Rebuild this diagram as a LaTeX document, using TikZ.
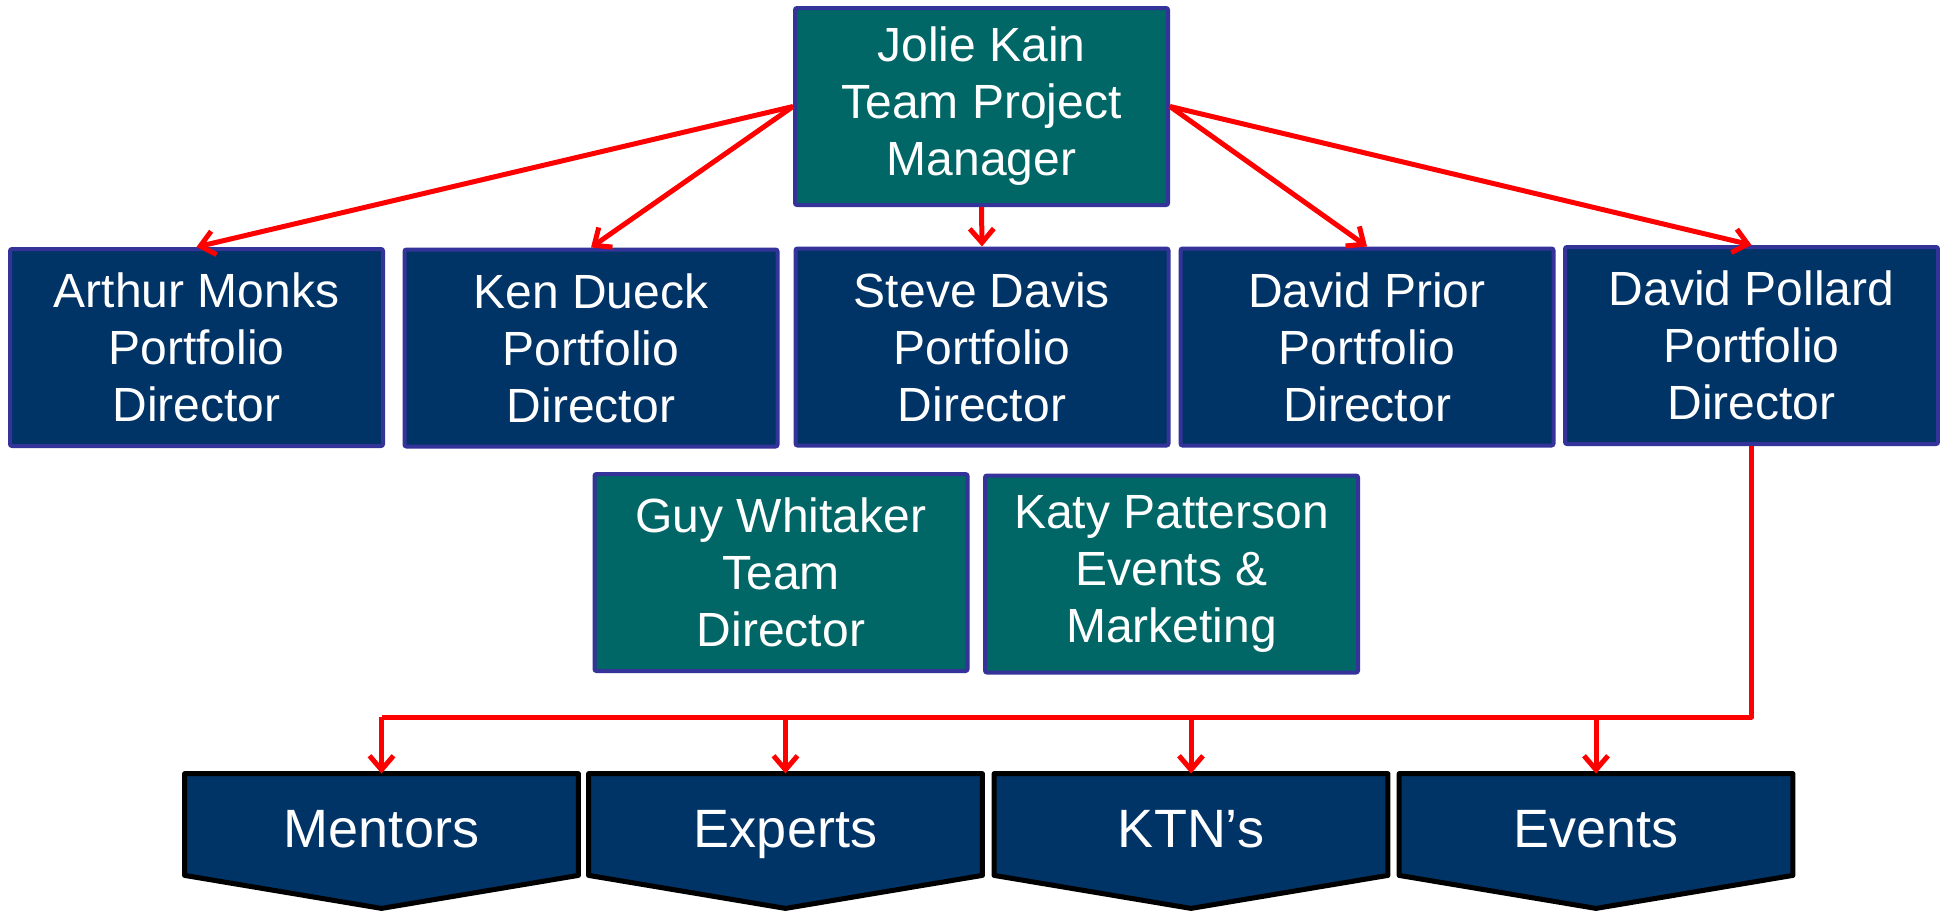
\documentclass[tikz,border=0pt]{standalone}
\usepackage{fontspec}
\setmainfont{Liberation Sans}
\usepackage{tikz}
\usetikzlibrary{arrows.meta,backgrounds}
\definecolor{verde}{RGB}{0,102,102}
\definecolor{azul}{RGB}{0,51,102}
\definecolor{borde}{RGB}{51,51,153}
\tikzstyle{box}=[rectangle, draw=borde, line width=2pt, rounded corners=1pt, text=white, align=center, minimum width=186.5pt, minimum height=98.5pt, inner sep=0pt, font=\fontsize{24}{28.5}\selectfont]
\tikzstyle{navybox}=[box, fill=azul]
\tikzstyle{tealbox}=[box, fill=verde]
\tikzstyle{tab}=[rectangle, minimum width=196.5pt, minimum height=50.5pt, inner sep=0pt, text height=22.5pt, text depth=0pt, text=white, font=\fontsize{27}{32}\selectfont]
\tikzstyle{flecha}=[red, line width=2.5pt, -{Straight Barb[length=7pt,width=12pt]}]
\begin{document}
\begin{tikzpicture}[x=0.5pt, y=-0.5pt]
        \useasboundingbox (0,0) rectangle (1940,911);

        % cajas
        \node[tealbox] (jolie) at (981.5, 106.5) {Jolie Kain\\Team Project\\Manager};
        \node[navybox] (arthur) at (196.5, 347.5) {Arthur Monks\\Portfolio\\Director};
        \node[navybox] (ken) at (591, 348) {Ken Dueck\\Portfolio\\Director};
        \node[navybox] (steve) at (982, 347) {Steve Davis\\Portfolio\\Director};
        \node[navybox] (prior) at (1367, 347) {David Prior\\Portfolio\\Director};
        \node[navybox] (pollard) at (1751.5, 345.5) {David Pollard\\Portfolio\\Director};
        \node[tealbox] (guy) at (781, 572.5) {Guy Whitaker\\Team\\Director};
        \node[tealbox] (katy) at (1171.5, 574) {Katy Patterson\\Events \&\\Marketing};

        % pestañas
        \node[tab] (mentors) at (381.5, 824.5) {Mentors};
        \node[tab] (experts) at (785.5, 824.5) {Experts};
        \node[tab] (ktn) at (1191, 824.5) {KTN’s};
        \node[tab] (events) at (1596, 824.5) {Events};
        \begin{scope}[on background layer]
            \foreach \n in {mentors,experts,ktn,events}
                \filldraw[fill=azul, draw=black, line width=2.5pt, line join=round] (\n.north west) -- (\n.north east) -- (\n.south east) -- ([yshift=-16.5pt]\n.south) -- (\n.south west) -- cycle;
        \end{scope}

        % flechas
        \draw[flecha] (jolie.west) -- (arthur.north);
        \draw[flecha] (jolie.west) -- (ken.north);
        \draw[flecha] (jolie.south) -- (steve.north);
        \draw[flecha] (jolie.east) -- (prior.north);
        \draw[flecha] (jolie.east) -- (pollard.north);

        \coordinate (bus) at (381.5, 717);
        \draw[red, line width=2.5pt, line join=round] (pollard.south) |- (bus);
        \foreach \n in {mentors,experts,ktn,events}
            \draw[flecha] (bus -| \n.north) -- (\n.north);
    \end{tikzpicture}
\end{document}
